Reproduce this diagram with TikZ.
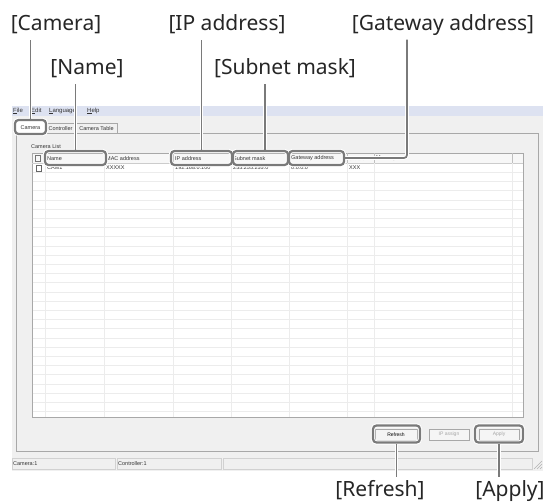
\documentclass[tikz,border=0pt]{standalone}
\usepackage{fontspec}
\setmainfont{Liberation Sans}
\newfontfamily\calloutfont{Noto Sans}
\usepackage{tikz}
\usetikzlibrary{calc}

\definecolor{markgray}{HTML}{7A7A7A}
\definecolor{winbg}{HTML}{F0F0F0}
\definecolor{menubg}{HTML}{DDE2F1}
\definecolor{gridgray}{HTML}{ECECEC}
\definecolor{edgegray}{HTML}{A8A8A8}

\begin{document}
\begin{tikzpicture}
  [
    x=1pt, y=-1pt,
    callout/.style={anchor=base, font=\calloutfont\fontsize{21}{24}\selectfont, text=black!85,
      text height=15pt, text depth=5pt, inner xsep=0pt, inner ysep=4pt},
    ui/.style={anchor=west, font=\fontsize{5.5}{6}\selectfont, text=black!80, inner sep=0pt},
    halo box/.style={draw=white, line width=4.2pt, rounded corners=3.5pt, inner sep=0pt},
    mark box/.style={draw=markgray, line width=2.2pt, rounded corners=3.5pt, inner sep=0pt},
    halo line/.style={draw=white, line width=3.6pt},
    mark line/.style={draw=markgray, line width=1.7pt},
    button/.style={draw=edgegray, fill=black!4, inner sep=0pt, minimum height=11pt,
      font=\fontsize{5}{6}\selectfont}
  ]
  \useasboundingbox (0,0) rectangle (559,503);
  % window
  \fill[winbg] (12,106) rectangle (543,471);
  \fill[menubg] (12,106) rectangle (543,116);
  \foreach \x/\t in {13/\underline{F}ile,31/\underline{E}dit,49/\underline{L}anguage,87/\underline{H}elp} {
    \node[ui, font=\fontsize{6}{7}\selectfont] at (\x,111) {\t};
  }
  % tab panel
  \draw[edgegray, fill=winbg] (16,133) rectangle (538,451);
  \draw[edgegray, fill=white] (16,133) -- (16,121) -- (45,121) -- (45,133);
  \draw[winbg, line width=1pt] (16.5,133) -- (44.5,133);
  \draw[edgegray] (45,123) -- (76,123) -- (76,133);
  \draw[edgegray] (76,123) -- (117,123) -- (117,133);
  \node[ui, anchor=center] (tCam) at (30.5,127.5) {Camera};
  \node[ui, anchor=center] (tCtl) at (60.5,128.5) {Controller};
  \node[ui, anchor=center] (tTab) at (96.5,128.5) {Camera Table};
  \node[ui] (list) at (31,147) {Camera List};
  % table
  \draw[edgegray, fill=white] (32,153) rectangle (523,417);
  \fill[black!3] (32.5,153.5) rectangle (522.5,163);
  \draw[black!20] (32,163) -- (523,163);
  \foreach \i in {1,...,27} {
    \draw[gridgray] (32.5,{163+9.2*\i}) -- (522.5,{163+9.2*\i});
  }
  \foreach \x in {45,104,173,231,289,347,374,512} {
    \draw[gridgray] (\x,163) -- (\x,417);
    \draw[black!25] (\x,153) -- (\x,163);
  }
  \draw[black!55] (35,155.5) rectangle (40,161);
  \foreach \x/\t in {47/Name,106/MAC address,175/IP address,233/Subnet mask,291/Gateway address,349/Status,376/Message} {
    \node[ui] at (\x,158.5) {\t};
  }
  \draw[black!60, fill=white] (36,165.5) rectangle (41,171);
  \foreach \x/\t in {47/CAM1,106/XXXXX,175/192.168.0.100,233/255.255.255.0,291/0.0.0.0,349/XXX} {
    \node[ui] at (\x,168) {\t};
  }
  % buttons
  \node[button, minimum width=42pt] (bRef) at (396,434.5) {Refresh};
  \node[button, minimum width=40pt, text=black!35] (bIP) at (449,434.5) {IP assign};
  \node[button, minimum width=40pt, text=black!35] (bApp) at (499,434.5) {Apply};
  % status bar
  \foreach \a/\b in {12/115,117/221,223/532} {
    \draw[black!18] (\a,458) rectangle (\b,469);
  }
  \node[ui] (stCam) at (13,463.5) {Camera:1};
  \node[ui] (stCtl) at (118,463.5) {Controller:1};
  \foreach \d in {2,5,8} {
    \draw[black!30] ({542-\d},469) -- (542,{469-\d});
  }
  % labels
  \node[callout] (lCam) at (56,30.5) {[Camera]};
  \node[callout] (lIP) at (227,30.5) {[IP address]};
  \node[callout] (lGate) at (443,30.5) {[Gateway address]};
  \node[callout] (lName) at (87,74.5) {[Name]};
  \node[callout] (lSub) at (285,74.5) {[Subnet mask]};
  \node[callout] (lRef) at (380,496) {[Refresh]};
  \node[callout] (lApp) at (510,496) {[Apply]};
  % marks and leaders
  \foreach \bs/\ls in {halo box/halo line, mark box/mark line} {
    \node[\bs, minimum width=31pt, minimum height=14pt] (hlCam) at (30.5,127) {};
    \node[\bs, minimum width=61pt, minimum height=14pt] (hlName) at (75.5,158) {};
    \node[\bs, minimum width=61pt, minimum height=14pt] (hlIP) at (201.5,158) {};
    \node[\bs, minimum width=55pt, minimum height=14pt] (hlSub) at (260.5,158) {};
    \node[\bs, minimum width=55pt, minimum height=14pt] (hlGate) at (316.5,158) {};
    \node[\bs, minimum width=47pt, minimum height=17pt] (hlRef) at (396.5,434) {};
    \node[\bs, minimum width=48pt, minimum height=17pt] (hlApp) at (499,434) {};
    \draw[\ls] (hlCam.north) -- (hlCam.north |- lCam.south);
    \draw[\ls] (hlName.north) -- (hlName.north |- lName.south);
    \draw[\ls] (hlIP.north) -- (hlIP.north |- lIP.south);
    \draw[\ls] ([xshift=4.5pt]hlSub.north) -- ([xshift=4.5pt]hlSub.north |- lSub.south);
    \draw[\ls, rounded corners=3pt] (hlGate.east) -| ([xshift=-36pt]lGate.south);
    \draw[\ls] (hlRef.south) -- (hlRef.south |- lRef.north);
    \draw[\ls] (hlApp.south) -- (hlApp.south |- lApp.north);
  }
\end{tikzpicture}
\end{document}
